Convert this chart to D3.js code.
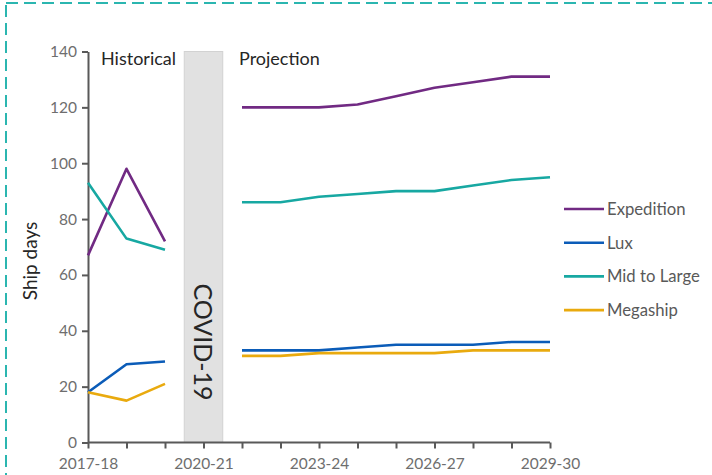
<!DOCTYPE html>
<html>
<head>
<meta charset="utf-8">
<script src="https://cdn.jsdelivr.net/npm/d3@7/dist/d3.min.js"></script>
<style>
  html, body { margin: 0; padding: 0; background: #fff; }
  svg { display: block; }
  text { font-family: Lato, "Open Sans", sans-serif; }
</style>
</head>
<body>
<svg id="chart" width="712" height="475"></svg>
<script>
// Financial years on the category axis
const years = ["2017-18","2018-19","2019-20","2020-21","2021-22","2022-23","2023-24",
               "2024-25","2025-26","2026-27","2027-28","2028-29","2029-30"];
const labelledYears = ["2017-18","2020-21","2023-24","2026-27","2029-30"];
const yTicks = [0, 20, 40, 60, 80, 100, 120, 140];

// Ship days per segment (null = no data, the COVID-19 year)
const expedition = [67, 98, 72, null, 120, 120, 120, 121, 124, 127, 129, 131, 131];
const lux        = [18, 28, 29, null, 33, 33, 33, 34, 35, 35, 35, 36, 36];
const midToLarge = [93, 73, 69, null, 86, 86, 88, 89, 90, 90, 92, 94, 95];
const megaship   = [18, 15, 21, null, 31, 31, 32, 32, 32, 32, 33, 33, 33];

const seriesNames  = ["Expedition", "Lux", "Mid to Large", "Megaship"];
const seriesValues = [expedition, lux, midToLarge, megaship];
const seriesColors = ["#712a83", "#0b5cb8", "#17a8a2", "#e9aa0e"];

const svg = d3.select("#chart");

// Dashed frame around the figure
svg.append("rect")
  .attr("x", 6).attr("y", 3).attr("width", 740).attr("height", 500)
  .attr("fill", "none").attr("stroke", "#2bb6b0").attr("stroke-width", 2)
  .attr("stroke-dasharray", "12,6");

const x = d3.scalePoint().domain(years).range([88, 550]);
const y = d3.scaleLinear().domain([0, 140]).range([442.5, 51.5]);
const step = x.step();

// COVID-19 band
const covidX = x("2020-21");
svg.append("rect")
  .attr("x", covidX - step / 2).attr("y", y(140))
  .attr("width", step).attr("height", y(0) - y(140))
  .attr("fill", "#e1e1e1").attr("stroke", "#d2d2d2").attr("stroke-width", 1);

svg.append("text")
  .attr("transform", `translate(${covidX - 10},${(y(0) + y(140)) / 2 + 95}) rotate(90)`)
  .attr("text-anchor", "middle")
  .attr("font-size", 25)
  .attr("fill", "#262626")
  .text("COVID-19");

// Axes
const axisColor = "#595959";
const xAxis = svg.append("g")
  .attr("transform", `translate(0,${y(0)})`)
  .call(d3.axisBottom(x).tickSize(6).tickSizeOuter(0)
    .tickFormat(d => labelledYears.includes(d) ? d : ""));
xAxis.select(".domain").attr("stroke", axisColor).attr("stroke-width", 2)
  .attr("d", `M${x(years[0])},0H${x(years[years.length - 1])}`);
xAxis.selectAll(".tick line").attr("stroke", axisColor).attr("stroke-width", 2);
xAxis.selectAll(".tick text")
  .attr("font-size", 15.5).attr("fill", "#6e6e6e").attr("dy", "1.12em")
  .style("font-family", "Lato, 'Open Sans', sans-serif");

const yAxis = svg.append("g")
  .attr("transform", `translate(${x(years[0])},0)`)
  .call(d3.axisLeft(y).tickValues(yTicks).tickSize(6).tickSizeOuter(0).tickPadding(5));
yAxis.select(".domain").attr("stroke", axisColor).attr("stroke-width", 2);
yAxis.selectAll(".tick line").attr("stroke", axisColor).attr("stroke-width", 2);
yAxis.selectAll(".tick text")
  .attr("font-size", 15.5).attr("fill", "#6e6e6e")
  .style("font-family", "Lato, 'Open Sans', sans-serif");

// Axis title
svg.append("text")
  .attr("transform", `translate(37,261) rotate(-90)`)
  .attr("text-anchor", "middle")
  .attr("font-size", 19).attr("fill", "#262626")
  .text("Ship days");

// Period annotations
svg.append("text").attr("x", 101).attr("y", 65)
  .attr("font-size", 18).attr("fill", "#262626").text("Historical");
svg.append("text").attr("x", 239).attr("y", 65)
  .attr("font-size", 18).attr("fill", "#262626").text("Projection");

// Lines
const line = d3.line()
  .defined(d => d != null)
  .x((d, i) => x(years[i]))
  .y(d => y(d));

seriesValues.forEach((vals, k) => {
  svg.append("path")
    .datum(vals)
    .attr("fill", "none")
    .attr("stroke", seriesColors[k])
    .attr("stroke-width", 2.6)
    .attr("stroke-linejoin", "round")
    .attr("d", line);
});

// Legend
const legend = svg.append("g").attr("transform", "translate(564,209)");
seriesNames.forEach((name, k) => {
  const g = legend.append("g").attr("transform", `translate(0,${k * 33.7})`);
  g.append("line").attr("x1", 0).attr("x2", 40).attr("y1", 0).attr("y2", 0)
    .attr("stroke", seriesColors[k]).attr("stroke-width", 2.6);
  g.append("text").attr("x", 43).attr("y", 0).attr("dy", "0.35em")
    .attr("font-size", 16.7).attr("fill", "#595959").text(name);
});
</script>
</body>
</html>
